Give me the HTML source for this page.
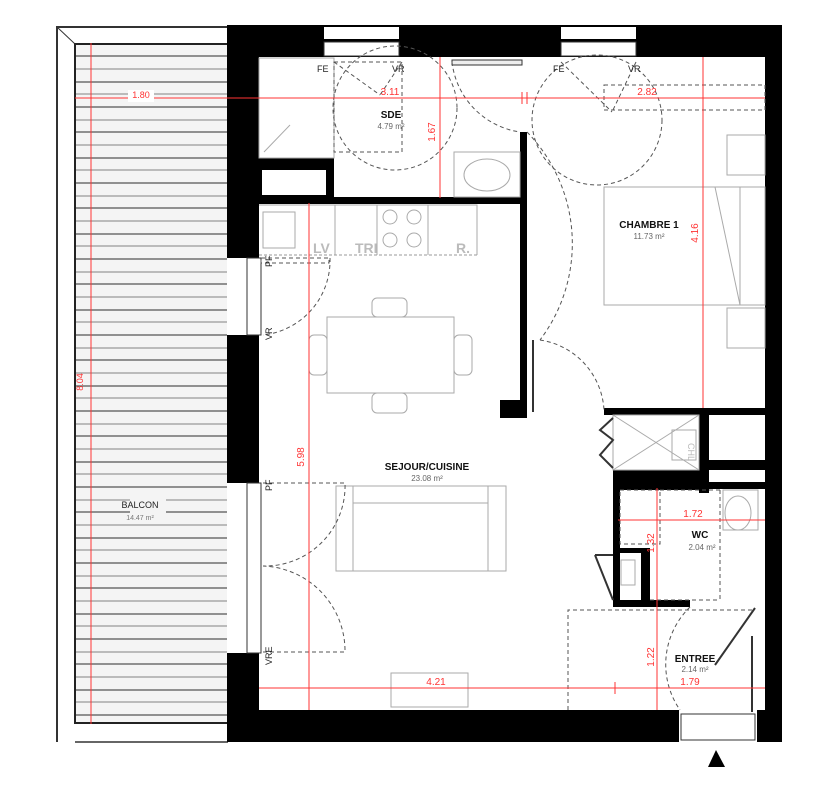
<!DOCTYPE html>
<html><head><meta charset="utf-8"><style>
html,body{margin:0;padding:0;background:#fff;}
svg{display:block;font-family:"Liberation Sans",sans-serif;}
</style></head><body>
<svg width="830" height="800" viewBox="0 0 830 800" xmlns="http://www.w3.org/2000/svg">
<rect width="830" height="800" fill="#fff"/>
<path d="M57 742 V27 H230" fill="none" stroke="#333" stroke-width="2"/>
<line x1="57" y1="27" x2="75" y2="44" stroke="#333" stroke-width="1"/>
<rect x="75" y="44" width="153" height="679" fill="#f4f4f4" stroke="#222" stroke-width="2"/>
<path d="M75 742 H228" stroke="#333" stroke-width="1.5"/>
<g stroke="#555" stroke-width="1.2">
<line x1="76" y1="56" x2="228" y2="56"/><line x1="76" y1="69" x2="228" y2="69" stroke="#999"/><line x1="76" y1="82" x2="228" y2="82"/><line x1="76" y1="94" x2="228" y2="94" stroke="#999"/><line x1="76" y1="107" x2="228" y2="107"/><line x1="76" y1="120" x2="228" y2="120" stroke="#999"/><line x1="76" y1="132" x2="228" y2="132"/><line x1="76" y1="145" x2="228" y2="145" stroke="#999"/><line x1="76" y1="158" x2="228" y2="158"/><line x1="76" y1="170" x2="228" y2="170" stroke="#999"/><line x1="76" y1="183" x2="228" y2="183"/><line x1="76" y1="196" x2="228" y2="196" stroke="#999"/><line x1="76" y1="208" x2="228" y2="208"/><line x1="76" y1="221" x2="228" y2="221" stroke="#999"/><line x1="76" y1="234" x2="228" y2="234"/><line x1="76" y1="246" x2="228" y2="246" stroke="#999"/><line x1="76" y1="259" x2="228" y2="259"/><line x1="76" y1="272" x2="228" y2="272" stroke="#999"/><line x1="76" y1="284" x2="228" y2="284"/><line x1="76" y1="297" x2="228" y2="297" stroke="#999"/><line x1="76" y1="310" x2="228" y2="310"/><line x1="76" y1="322" x2="228" y2="322" stroke="#999"/><line x1="76" y1="335" x2="228" y2="335"/><line x1="76" y1="348" x2="228" y2="348" stroke="#999"/><line x1="76" y1="360" x2="228" y2="360"/><line x1="76" y1="373" x2="228" y2="373" stroke="#999"/><line x1="76" y1="386" x2="228" y2="386"/><line x1="76" y1="398" x2="228" y2="398" stroke="#999"/><line x1="76" y1="411" x2="228" y2="411"/><line x1="76" y1="424" x2="228" y2="424" stroke="#999"/><line x1="76" y1="436" x2="228" y2="436"/><line x1="76" y1="449" x2="228" y2="449" stroke="#999"/><line x1="76" y1="462" x2="228" y2="462"/><line x1="76" y1="474" x2="228" y2="474" stroke="#999"/><line x1="76" y1="487" x2="228" y2="487"/><line x1="76" y1="500" x2="228" y2="500" stroke="#999"/><line x1="76" y1="512" x2="228" y2="512"/><line x1="76" y1="525" x2="228" y2="525" stroke="#999"/><line x1="76" y1="538" x2="228" y2="538"/><line x1="76" y1="550" x2="228" y2="550" stroke="#999"/><line x1="76" y1="563" x2="228" y2="563"/><line x1="76" y1="576" x2="228" y2="576" stroke="#999"/><line x1="76" y1="588" x2="228" y2="588"/><line x1="76" y1="601" x2="228" y2="601" stroke="#999"/><line x1="76" y1="614" x2="228" y2="614"/><line x1="76" y1="626" x2="228" y2="626" stroke="#999"/><line x1="76" y1="639" x2="228" y2="639"/><line x1="76" y1="652" x2="228" y2="652" stroke="#999"/><line x1="76" y1="664" x2="228" y2="664"/><line x1="76" y1="677" x2="228" y2="677" stroke="#999"/><line x1="76" y1="690" x2="228" y2="690"/><line x1="76" y1="702" x2="228" y2="702" stroke="#999"/><line x1="76" y1="715" x2="228" y2="715"/>
</g>
<rect x="130" y="497" width="36" height="26" fill="#f4f4f4"/>
<text x="140" y="508" font-size="9" text-anchor="middle" fill="#222">BALCON</text>
<text x="140" y="520" font-size="7" text-anchor="middle" fill="#777">14.47 m²</text>
<g stroke="#f33" stroke-width="1" fill="none">
<line x1="91" y1="43" x2="91" y2="724"/>
<line x1="75" y1="98" x2="228" y2="98"/>
</g>
<rect x="128" y="90" width="26" height="12" fill="#fff"/>
<text x="141" y="98" font-size="9" text-anchor="middle" fill="#f33">1.80</text>
<text x="83" y="382" font-size="9" text-anchor="middle" fill="#f33" transform="rotate(-90 83 382)">8.04</text>

<g fill="#000">
<rect x="227" y="25" width="555" height="32"/>
<rect x="227" y="25" width="32" height="233"/>
<rect x="227" y="335" width="32" height="148"/>
<rect x="227" y="653" width="32" height="89"/>
<rect x="227" y="710" width="452" height="32"/>
<rect x="757" y="710" width="25" height="32"/>
<rect x="765" y="25" width="17" height="717"/>
<rect x="259" y="158" width="75" height="46"/>
<rect x="259" y="197" width="268" height="7"/>
<rect x="520" y="132" width="7" height="286"/>
<rect x="500" y="400" width="27" height="18"/>
<rect x="604" y="408" width="161" height="7"/>
<rect x="699" y="415" width="10" height="78"/>
<rect x="613" y="470" width="96" height="20"/>
<rect x="709" y="460" width="56" height="10"/>
<rect x="709" y="482" width="56" height="7"/>
<rect x="613" y="470" width="7" height="137"/>
<rect x="613" y="600" width="77" height="7"/>
<rect x="641" y="550" width="9" height="55"/>
<rect x="613" y="548" width="37" height="5"/>
</g>
<rect x="262" y="170" width="64" height="25" fill="#fff"/>
<rect x="227" y="258" width="20" height="77" fill="#fff"/>
<rect x="227" y="483" width="20" height="170" fill="#fff"/>
<rect x="324" y="27" width="75" height="12" fill="#fff"/>
<rect x="561" y="27" width="75" height="12" fill="#fff"/>
<rect x="709" y="418" width="56" height="42" fill="#fff"/>
<rect x="679" y="710" width="78" height="32" fill="#fff"/>
<g fill="#fff" stroke="#333" stroke-width="1">
<rect x="324" y="42" width="75" height="14"/>
<rect x="561" y="42" width="75" height="14"/>
<rect x="247" y="258" width="14" height="77"/>
<rect x="247" y="483" width="14" height="170"/>
<rect x="452" y="60" width="70" height="5" fill="#eee"/>
<rect x="681" y="714" width="74" height="26"/>
</g>
<g fill="none" stroke="#aaa" stroke-width="1">
<rect x="259" y="58" width="75" height="100"/>
<line x1="264" y1="152" x2="290" y2="125"/>
<rect x="454" y="152" width="66" height="45"/>
<ellipse cx="487" cy="175" rx="23" ry="16"/>
<path d="M259 205 H477 V255"/>
<rect x="263" y="212" width="32" height="36"/>
<line x1="335" y1="205" x2="335" y2="255"/>
<line x1="377" y1="205" x2="377" y2="255"/>
<line x1="428" y1="205" x2="428" y2="255"/>
<circle cx="390" cy="217" r="7"/><circle cx="414" cy="217" r="7"/>
<circle cx="390" cy="240" r="7"/><circle cx="414" cy="240" r="7"/>
<rect x="327" y="317" width="127" height="76"/>
<rect x="372" y="298" width="35" height="19" rx="5"/>
<rect x="372" y="393" width="35" height="20" rx="5"/>
<rect x="309" y="335" width="18" height="40" rx="5"/>
<rect x="454" y="335" width="18" height="40" rx="5"/>
<rect x="336" y="486" width="170" height="85"/>
<line x1="353" y1="486" x2="353" y2="571"/><line x1="488" y1="486" x2="488" y2="571"/>
<line x1="353" y1="503" x2="488" y2="503"/>
<rect x="391" y="673" width="77" height="34"/>
<rect x="604" y="187" width="161" height="118"/>
<line x1="740" y1="187" x2="740" y2="305"/>
<line x1="715" y1="187" x2="740" y2="305"/>
<rect x="727" y="135" width="38" height="40"/>
<rect x="727" y="308" width="38" height="40"/>
<rect x="613" y="415" width="86" height="55"/>
<line x1="613" y1="415" x2="699" y2="470"/><line x1="699" y1="415" x2="613" y2="470"/>
<rect x="672" y="430" width="24" height="30"/>
<rect x="621" y="560" width="14" height="25"/>
<ellipse cx="738" cy="513" rx="13" ry="17"/>
<rect x="723" y="490" width="35" height="40"/>
</g>
<g fill="none" stroke="#999" stroke-width="1" stroke-dasharray="3 2">
<line x1="259" y1="255" x2="477" y2="255"/>
</g>
<g font-size="14" fill="#bbb" font-weight="bold">
<text x="313" y="253">LV</text><text x="355" y="253">TRI</text><text x="456" y="253">R.</text>
</g>
<text x="0" y="0" font-size="9" fill="#bbb" transform="translate(688 443) rotate(90)">CHL</text>
<g fill="none" stroke="#555" stroke-width="1" stroke-dasharray="4 3">
<rect x="334" y="62" width="68" height="90"/>
<line x1="334" y1="62" x2="380" y2="95"/><line x1="402" y1="62" x2="380" y2="95"/>
<circle cx="395" cy="108" r="62"/>
<path d="M452 62 A80 80 0 0 0 520 132"/>
<rect x="604" y="85" width="161" height="25"/>
<line x1="561" y1="62" x2="612" y2="112"/><line x1="636" y1="62" x2="612" y2="112"/>
<circle cx="597" cy="120" r="65"/>
<path d="M527 132 A160 160 0 0 1 540 340"/>
<path d="M540 340 A75 75 0 0 1 604 410"/>
<rect x="261" y="258" width="68" height="5"/>
<path d="M330 258 A75 75 0 0 1 263 335"/>
<path d="M263 483 H345 A80 80 0 0 1 263 566"/>
<path d="M263 652 H345 A85 85 0 0 0 263 566"/>
<rect x="620" y="490" width="40" height="54"/>
<line x1="660" y1="490" x2="720" y2="490"/><line x1="720" y1="490" x2="720" y2="600"/><line x1="650" y1="600" x2="720" y2="600"/>
<path d="M568 710 V610 H754"/>
<path d="M690 607 A80 80 0 0 0 680 710"/>
</g>
<g stroke="#333" stroke-width="2" fill="none">
<line x1="755" y1="608" x2="715" y2="665"/>
<line x1="752" y1="636" x2="752" y2="712"/>
<line x1="533" y1="340" x2="533" y2="412"/>
<polyline points="613,418 600,430 613,440 600,455 613,468"/>
<line x1="613" y1="555" x2="595" y2="555"/><line x1="595" y1="555" x2="613" y2="600"/>
</g>
<g stroke="#f33" stroke-width="1" fill="none">
<line x1="220" y1="98" x2="765" y2="98"/>
<line x1="522" y1="92" x2="522" y2="104"/><line x1="527" y1="92" x2="527" y2="104"/>
<line x1="440" y1="57" x2="440" y2="198"/>
<line x1="703" y1="57" x2="703" y2="408"/>
<line x1="309" y1="203" x2="309" y2="710"/>
<line x1="259" y1="688" x2="765" y2="688"/>
<line x1="615" y1="682" x2="615" y2="694"/>
<line x1="618" y1="520" x2="765" y2="520"/>
<line x1="657" y1="488" x2="657" y2="710"/>
</g>
<g font-size="10" fill="#f33" text-anchor="middle">
<text x="390" y="95">3.11</text>
<text x="647" y="95">2.82</text>
<text x="436" y="685">4.21</text>
<text x="690" y="685">1.79</text>
<text x="693" y="517">1.72</text>
<text transform="translate(435 132) rotate(-90)">1.67</text>
<text transform="translate(698 233) rotate(-90)">4.16</text>
<text transform="translate(304 457) rotate(-90)">5.98</text>
<text transform="translate(654 543) rotate(-90)">1.32</text>
<text transform="translate(654 657) rotate(-90)">1.22</text>
</g>
<g font-size="9" fill="#222">
<text x="317" y="72">FE</text><text x="392" y="72">VR</text>
<text x="553" y="72">FE</text><text x="628" y="72">VR</text>
<text transform="translate(272 267) rotate(-90)">PF</text>
<text transform="translate(272 340) rotate(-90)">VR</text>
<text transform="translate(272 491) rotate(-90)">PF</text>
<text transform="translate(272 665) rotate(-90)">VRE</text>
</g>
<g font-size="10" font-weight="bold" fill="#111" text-anchor="middle">
<text x="391" y="118">SDE</text>
<text x="649" y="228">CHAMBRE 1</text>
<text x="427" y="470">SEJOUR/CUISINE</text>
<text x="700" y="538">WC</text>
<text x="695" y="662">ENTREE</text>
</g>
<g font-size="8" fill="#666" text-anchor="middle">
<text x="391" y="129">4.79 m²</text>
<text x="649" y="239">11.73 m²</text>
<text x="427" y="481">23.08 m²</text>
<text x="702" y="550">2.04 m²</text>
<text x="695" y="672">2.14 m²</text>
</g>
<polygon points="716,750 708,767 725,767" fill="#000"/>
</svg>
</body></html>
